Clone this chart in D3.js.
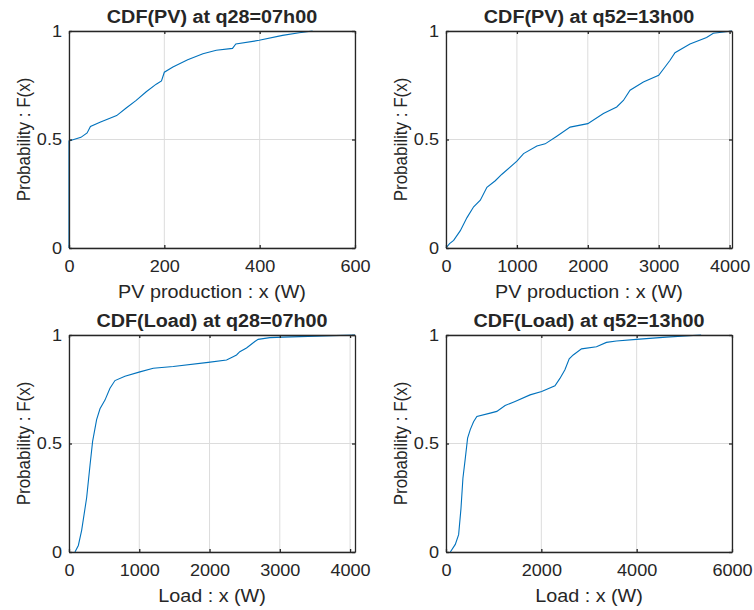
<!DOCTYPE html>
<html lang="en">
<head>
<meta charset="UTF-8">
<title>CDF panels</title>
<style>
	body { margin: 0; background: #fff; }
	text { font-family: "Liberation Sans", Arial, sans-serif; fill: #262626; }
</style>
</head>
<body>
<svg id="container" width="754" height="610"></svg>
<script src="https://cdn.jsdelivr.net/npm/d3@7/dist/d3.min.js"></script>
<script>
// values: [x (W), F(x)]
let pvQ28 = [[0,0],[0,0.493],[10,0.50],[25,0.51],[38,0.53],[45,0.56],[65,0.58],[100,0.61],[120,0.645],
	[141,0.68],[162,0.72],[183,0.755],[194,0.77],[200,0.81],[218,0.834],[249,0.868],[281,0.895],
	[309,0.911],[343,0.92],[350,0.94],[399,0.957],[448,0.98],[483,0.992],[511,1]]
let pvQ52 = [[0,0],[50,0.02],[108,0.035],[202,0.08],[296,0.14],[390,0.19],[484,0.22],[577,0.28],
	[695,0.31],[789,0.34],[1000,0.40],[1094,0.435],[1282,0.47],[1399,0.48],[1563,0.515],[1751,0.557],
	[2000,0.573],[2220,0.62],[2408,0.65],[2502,0.68],[2596,0.727],[2784,0.765],[3000,0.796],
	[3089,0.834],[3160,0.865],[3230,0.90],[3441,0.94],[3676,0.97],[3770,0.99],[4034,1]]
let loadQ28 = [[85,0],[133,0.03],[180,0.10],[251,0.25],[299,0.40],[336,0.51],[393,0.61],[441,0.66],
	[512,0.70],[583,0.755],[654,0.79],[796,0.81],[1009,0.83],[1199,0.847],[1483,0.855],[1981,0.874],
	[2242,0.885],[2336,0.90],[2384,0.908],[2431,0.923],[2526,0.94],[2645,0.97],[2692,0.98],
	[2858,0.988],[3047,0.99],[3521,0.995],[4070,1]]
let loadQ52 = [[91,0],[195,0.035],[265,0.08],[314,0.20],[355,0.34],[404,0.43],[453,0.525],[509,0.564],
	[578,0.60],[648,0.625],[927,0.64],[1066,0.648],[1240,0.675],[1449,0.694],[1763,0.724],[2007,0.74],
	[2286,0.766],[2390,0.80],[2495,0.84],[2585,0.89],[2669,0.908],[2843,0.936],[3157,0.946],
	[3366,0.966],[3575,0.972],[3993,0.98],[4620,0.99],[5352,1]]

let titles = ["CDF(PV) at q28=07h00", "CDF(PV) at q52=13h00", "CDF(Load) at q28=07h00", "CDF(Load) at q52=13h00"]
let xLabels = ["PV production : x (W)", "PV production : x (W)", "Load : x (W)", "Load  : x (W)"]
let xMax = [600, 4034, 4070, 6000]
let xTicks = [[0,200,400,600], [0,1000,2000,3000,4000], [0,1000,2000,3000,4000], [0,2000,4000,6000]]
let yTicks = [0, 0.5, 1]
let series = [pvQ28, pvQ52, loadQ28, loadQ52]

let svg = d3.select("#container")
let boxes = [
	{x: 69, y: 31}, {x: 446, y: 31},
	{x: 69, y: 335}, {x: 446, y: 335}
]
let w = 286, h = 217
let sx = 1.13   // the source text is a bit wider than it is tall

boxes.forEach((b, i) => {
	let g = svg.append("g").attr("transform", "translate(" + b.x + "," + b.y + ")")
	let xscale = d3.scaleLinear().domain([0, xMax[i]]).range([0, w])
	let yscale = d3.scaleLinear().domain([0, 1]).range([h, 0])

	// grid
	g.append("g").selectAll("line").data(xTicks[i]).join("line")
		.attr("x1", d => xscale(d)).attr("x2", d => xscale(d))
		.attr("y1", 0).attr("y2", h)
		.attr("stroke", "#dcdcdc").attr("stroke-width", 1)
	g.append("g").selectAll("line").data(yTicks).join("line")
		.attr("y1", d => yscale(d)).attr("y2", d => yscale(d))
		.attr("x1", 0).attr("x2", w)
		.attr("stroke", "#dcdcdc").attr("stroke-width", 1)

	// curve
	let valueline = d3.line()
		.x(d => xscale(d[0]))
		.y(d => yscale(d[1]))
	g.append("path")
		.datum(series[i])
		.attr("d", valueline)
		.attr("fill", "none")
		.attr("stroke", "#0072BD")
		.attr("stroke-width", 1.1)

	// axes (ticks inward, box on)
	let style = a => {
		a.select(".domain").attr("stroke", "#262626").attr("stroke-width", 1.3)
		a.selectAll(".tick line").attr("stroke", "#262626").attr("stroke-width", 1.3)
		a.selectAll("text").style("font-size", "16px").attr("fill", "#262626")
	}
	g.append("g").attr("transform", "translate(0," + h + ")")
		.call(d3.axisBottom(xscale).tickValues(xTicks[i]).tickSizeInner(-3).tickSizeOuter(0).tickPadding(13).tickFormat(d3.format("d")))
		.call(style)
		.selectAll(".tick text").attr("transform", "scale(" + sx + ",1)")
	g.append("g")
		.call(d3.axisTop(xscale).tickValues(xTicks[i]).tickSizeInner(-3).tickSizeOuter(0).tickFormat(""))
		.call(style)
	g.append("g")
		.call(d3.axisLeft(yscale).tickValues(yTicks).tickSizeInner(-3).tickSizeOuter(0).tickFormat(d => d === 0.5 ? "0.5" : d3.format("d")(d)))
		.call(style)
		.selectAll(".tick text").attr("x", -7 / sx).attr("transform", "scale(" + sx + ",1)")
	g.append("g").attr("transform", "translate(" + w + ",0)")
		.call(d3.axisRight(yscale).tickValues(yTicks).tickSizeInner(-3).tickSizeOuter(0).tickFormat(""))
		.call(style)

	// texts
	g.append("text").attr("transform", "translate(" + (w / 2) + ",-8) scale(" + sx + ",1)")
		.attr("text-anchor", "middle").style("font-size", "17.5px").style("font-weight", "bold")
		.text(titles[i])
	g.append("text").attr("transform", "translate(" + (w / 2) + "," + (h + 50) + ") scale(" + sx + ",1)")
		.attr("text-anchor", "middle").style("font-size", "17.5px")
		.text(xLabels[i])
	g.append("text").attr("transform", "translate(-39," + (h / 2) + ") scale(" + sx + ",1) rotate(-90)")
		.attr("text-anchor", "middle").style("font-size", "17px")
		.text("Probability : F(x)")
})
</script>
</body>
</html>
